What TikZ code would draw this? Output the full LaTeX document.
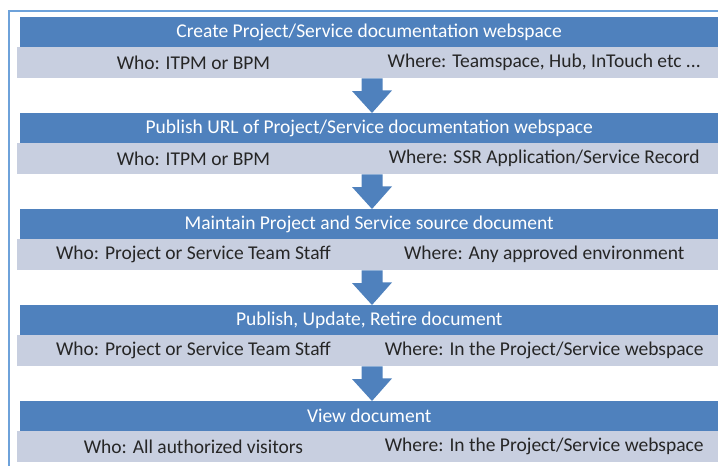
\documentclass[tikz,border=0pt]{standalone}
\usepackage{fontspec}
\setmainfont{Carlito}
\usetikzlibrary{positioning,calc}
\definecolor{barblue}{HTML}{4F81BD}
\definecolor{rowgrey}{HTML}{C8CFE0}
\definecolor{framecol}{HTML}{6EA2DA}

\begin{document}
\begin{tikzpicture}[x=1pt,y=-1pt,
    bar/.style={fill=barblue, text=white, inner sep=0pt, anchor=north west,
      minimum width=698pt, minimum height=30pt, font=\fontsize{19.5}{22}\selectfont},
    whocell/.style={fill=rowgrey, text=black!85, inner sep=0pt, anchor=north west,
      minimum width=352.5pt, minimum height=31pt, font=\fontsize{19.5}{22}\selectfont},
    wherecell/.style={whocell, minimum width=348pt}]
    \useasboundingbox (0,0) rectangle (718,466);
    % Frame
    \draw[framecol, line width=1.5pt] (9,466) -- (9,11) -- (718,11);
    % Stage 1
    \node[bar] (t1) at (20,17) {Create Project/Service documentation webspace};
    \node[whocell] (w1) at (17,47) {Who: ITPM or BPM};
    \node[wherecell] (r1) at (370,47) {Where: Teamspace, Hub, InTouch etc ...};
    % Stage 2
    \node[bar] (t2) at (20,113) {Publish URL of Project/Service documentation webspace};
    \node[whocell] (w2) at (17,143) {Who: ITPM or BPM};
    \node[wherecell] (r2) at (370,143) {Where: SSR Application/Service Record};
    % Stage 3
    \node[bar] (t3) at (20,209) {Maintain Project and Service source document};
    \node[whocell] (w3) at (17,239) {Who: Project or Service Team Staff};
    \node[wherecell] (r3) at (370,239) {Where: Any approved environment};
    % Stage 4
    \node[bar] (t4) at (20,305) {Publish, Update, Retire document};
    \node[whocell] (w4) at (17,335) {Who: Project or Service Team Staff};
    \node[wherecell] (r4) at (370,335) {Where: In the Project/Service webspace};
    % Stage 5
    \node[bar] (t5) at (20,401) {View document};
    \node[whocell] (w5) at (17,431) {Who: All authorized visitors};
    \node[wherecell] (r5) at (370,431) {Where: In the Project/Service webspace};
    % Block arrows
    \coordinate (axis) at (372,0);
    \foreach \a/\b in {w1/t2, w2/t3, w3/t4, w4/t5}
      \fill[barblue] (\a.south -| axis) ++(-10.5,0) -- ++(21,0) -- ++(0,12)
        -- ++(9.5,0) -- (\b.north -| axis) -- ++(-20,-22) -- ++(9.5,0) -- cycle;
\end{tikzpicture}
\end{document}
